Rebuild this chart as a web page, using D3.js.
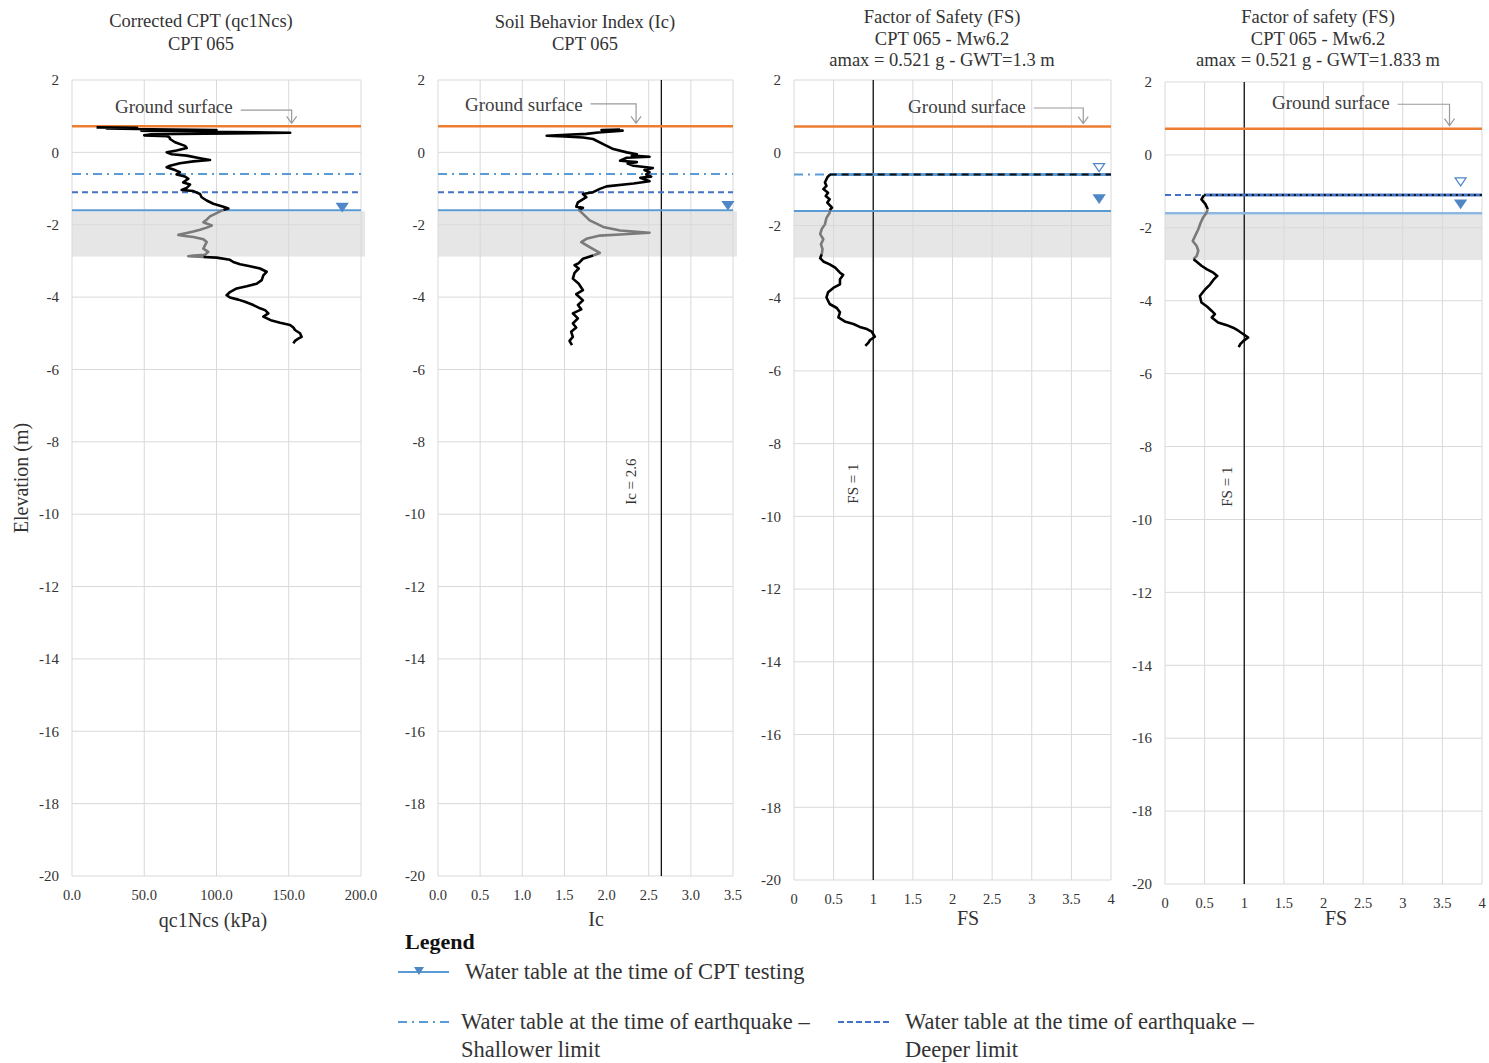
<!DOCTYPE html>
<html>
<head>
<meta charset="utf-8">
<script src="https://cdn.jsdelivr.net/npm/d3@7"></script>
<style>
  body { margin: 0; background: #fff; }
  text { font-family: "Liberation Serif", "Times New Roman", serif; fill: #333; }
</style>
</head>
<body>
<div id="chart"></div>
<script>
// elevation ticks (m) and x ticks
var elevTicks = [2, 0, -2, -4, -6, -8, -10, -12, -14, -16, -18, -20];
var qcTicks = [0, 50, 100, 150, 200];
var icTicks = [0, 0.5, 1, 1.5, 2, 2.5, 3, 3.5];
var fsTicks = [0, 0.5, 1, 1.5, 2, 2.5, 3, 3.5, 4];

// reference levels (m)
var groundSurface = 0.72;
var wtCpt = -1.6;
var wtShallow = -0.6;
var wtDeep = -1.1;
var shadeTop = -1.63, shadeBottom = -2.88;
var icLimit = 2.65;
var fsLimit = 1;

// [elevation, value]
var qcProfile = [
  [0.69, 17], [0.68, 45], [0.66, 24], [0.64, 55], [0.62, 100], [0.60, 48], [0.57, 90], [0.54, 151],
  [0.52, 110], [0.50, 55], [0.47, 50], [0.45, 66], [0.40, 67.8], [0.37, 67.8], [0.28, 71.3], [0.18, 78.2],
  [0.12, 79.4], [0.05, 72.4], [0.0, 65.5], [-0.05, 69], [-0.09, 79.4], [-0.16, 88.6], [-0.21, 95.5],
  [-0.25, 84], [-0.30, 74.7], [-0.37, 67.8], [-0.41, 65.5], [-0.49, 71.3], [-0.55, 74.7], [-0.61, 72.4],
  [-0.67, 78.2], [-0.73, 80.5], [-0.83, 77], [-0.89, 81.7], [-0.98, 79.4], [-1.04, 75.9], [-1.07, 84],
  [-1.15, 88.6], [-1.24, 89.7], [-1.33, 93.2], [-1.42, 97.8], [-1.50, 104.7], [-1.55, 108.2], [-1.59, 104.7],
  [-1.68, 100.1], [-1.77, 95.5], [-1.86, 93.2], [-1.93, 90.9], [-2.02, 96.7], [-2.08, 93.2], [-2.14, 88.6],
  [-2.19, 84], [-2.23, 79.4], [-2.28, 73.6], [-2.31, 78.2], [-2.34, 84], [-2.40, 90.9], [-2.48, 93.2],
  [-2.57, 92], [-2.66, 90.9], [-2.75, 94.3], [-2.83, 92], [-2.85, 84], [-2.87, 80.5], [-2.89, 90.9],
  [-2.91, 100.1], [-2.97, 109.3], [-3.03, 111.6], [-3.09, 116.3], [-3.15, 123.2], [-3.21, 130.1],
  [-3.30, 134.7], [-3.40, 132.4], [-3.53, 131.3], [-3.63, 127.8], [-3.70, 120.9], [-3.76, 114],
  [-3.86, 109.3], [-3.95, 107], [-4.01, 109.3], [-4.07, 115.1], [-4.13, 119.7], [-4.22, 125.5],
  [-4.31, 130.1], [-4.36, 133.6], [-4.45, 135.9], [-4.54, 132.4], [-4.65, 138.2], [-4.71, 144],
  [-4.77, 150.9], [-4.84, 153.2], [-4.91, 154.3], [-5.00, 157.8], [-5.10, 158.9], [-5.15, 156.6],
  [-5.21, 154.3], [-5.28, 153.2]
];

var icProfile = [
  [0.63, 2.16], [0.62, 1.94], [0.60, 2.19], [0.55, 1.90], [0.51, 1.76], [0.46, 1.29], [0.44, 1.50],
  [0.41, 1.72], [0.37, 1.84], [0.23, 1.96], [0.09, 2.08], [0.0, 2.24], [-0.05, 2.36], [-0.09, 2.30],
  [-0.12, 2.51], [-0.15, 2.24], [-0.23, 2.16], [-0.27, 2.36], [-0.31, 2.25], [-0.37, 2.32], [-0.43, 2.55],
  [-0.49, 2.45], [-0.55, 2.51], [-0.61, 2.47], [-0.67, 2.53], [-0.70, 2.40], [-0.80, 2.51], [-0.86, 2.32],
  [-0.94, 2.00], [-1.01, 1.92], [-1.10, 1.84], [-1.15, 1.72], [-1.24, 1.76], [-1.38, 1.66], [-1.50, 1.64],
  [-1.53, 1.72], [-1.59, 1.67], [-1.70, 1.72], [-1.88, 1.80], [-2.06, 1.96], [-2.16, 2.16], [-2.22, 2.51],
  [-2.27, 2.16], [-2.30, 1.92], [-2.39, 1.76], [-2.48, 1.70], [-2.62, 1.80], [-2.78, 1.92], [-2.85, 1.84],
  [-2.94, 1.72], [-3.06, 1.67], [-3.12, 1.62], [-3.21, 1.67], [-3.33, 1.62], [-3.49, 1.60], [-3.63, 1.67],
  [-3.81, 1.72], [-3.92, 1.64], [-4.09, 1.72], [-4.22, 1.66], [-4.34, 1.70], [-4.45, 1.60], [-4.59, 1.66],
  [-4.73, 1.60], [-4.84, 1.64], [-4.96, 1.58], [-5.10, 1.60], [-5.21, 1.56], [-5.33, 1.59]
];

var fsProfileA = [
  [-0.59, 0.45], [-0.61, 0.45], [-0.68, 0.42], [-0.82, 0.39], [-0.91, 0.41], [-1.00, 0.37], [-1.10, 0.43],
  [-1.19, 0.40], [-1.28, 0.45], [-1.37, 0.42], [-1.51, 0.48], [-1.58, 0.45], [-1.65, 0.45], [-1.79, 0.41],
  [-1.97, 0.39], [-2.10, 0.35], [-2.24, 0.33], [-2.38, 0.37], [-2.52, 0.34], [-2.65, 0.36], [-2.79, 0.35],
  [-2.90, 0.33], [-2.99, 0.37], [-3.07, 0.45], [-3.16, 0.52], [-3.30, 0.58], [-3.36, 0.62], [-3.48, 0.58],
  [-3.62, 0.58], [-3.71, 0.50], [-3.84, 0.43], [-3.98, 0.41], [-4.16, 0.45], [-4.27, 0.54], [-4.39, 0.58],
  [-4.53, 0.56], [-4.64, 0.64], [-4.71, 0.75], [-4.79, 0.83], [-4.85, 0.92], [-4.92, 0.98], [-5.06, 1.02],
  [-5.15, 0.96], [-5.22, 0.94], [-5.31, 0.90]
];

var fsProfileB = [
  [-1.11, 0.49], [-1.22, 0.46], [-1.35, 0.51], [-1.49, 0.54], [-1.60, 0.52], [-1.72, 0.48], [-1.86, 0.45],
  [-2.04, 0.42], [-2.22, 0.38], [-2.36, 0.35], [-2.50, 0.40], [-2.63, 0.42], [-2.77, 0.40], [-2.86, 0.36],
  [-2.93, 0.40], [-3.04, 0.46], [-3.14, 0.53], [-3.23, 0.61], [-3.32, 0.66], [-3.43, 0.61], [-3.55, 0.57],
  [-3.68, 0.51], [-3.87, 0.44], [-4.05, 0.46], [-4.16, 0.53], [-4.28, 0.59], [-4.37, 0.63], [-4.46, 0.59],
  [-4.60, 0.67], [-4.67, 0.78], [-4.74, 0.86], [-4.83, 0.93], [-4.92, 0.99], [-5.01, 1.05], [-5.10, 0.99],
  [-5.19, 0.95], [-5.27, 0.93]
];

var panelTitles = [
  ["Corrected CPT (qc1Ncs)", "CPT 065"],
  ["Soil Behavior Index (Ic)", "CPT 065"],
  ["Factor of Safety (FS)", "CPT 065 - Mw6.2", "amax = 0.521  g - GWT=1.3 m"],
  ["Factor of safety (FS)", "CPT 065 - Mw6.2", "amax = 0.521  g - GWT=1.833  m"]
];
var axisTitles = ["qc1Ncs (kPa)", "Ic", "FS", "FS"];

var orange = "#ED7D31", blue = "#5B9BD5", deepBlue = "#4472C4", grid = "#d9d9d9";

var svg = d3.select("#chart").append("svg")
    .attr("width", 1489)
    .attr("height", 1063);

var panels = [
  { l: 72, r: 361, t: 80, b: 876, dom: [0, 200], ticks: qcTicks, fmt: d3.format(".1f"),
    titleX: 201, titleY: [21, 44], axisX: 213, axisY: 920, data: qcProfile,
    levels: [["shallow", wtShallow], ["deep", wtDeep], ["cpt", wtCpt]],
    tri: [[187, -1.52, true]], gs: { tx: 29.8, ty: 1.28, ly: 1.17, ax: 152 } },
  { l: 438, r: 733, t: 80, b: 876, dom: [0, 3.5], ticks: icTicks, fmt: d3.format(".1f"),
    titleX: 585, titleY: [22, 44], axisX: 596, axisY: 919, data: icProfile,
    levels: [["shallow", wtShallow], ["deep", wtDeep], ["cpt", wtCpt]],
    tri: [[3.44, -1.47, true]], gs: { tx: 0.32, ty: 1.34, ly: 1.34, ax: 2.35 },
    vline: icLimit, vlabel: "Ic = 2.6", vlabelX: 2.29 },
  { l: 794, r: 1111, t: 80, b: 880, dom: [0, 4], ticks: fsTicks, fmt: String,
    titleX: 942, titleY: [17, 39, 60], axisX: 968, axisY: 918, data: fsProfileA,
    levels: [["shallow", wtShallow], ["overDash", wtShallow], ["cpt", wtCpt]],
    tri: [[3.85, -0.41, false], [3.85, -1.27, true]], gs: { tx: 1.44, ty: 1.28, ly: 1.23, ax: 3.65 },
    vline: fsLimit, vlabel: "FS = 1", vlabelX: 0.74 },
  { l: 1165, r: 1482, t: 82, b: 884, dom: [0, 4], ticks: fsTicks, fmt: String,
    titleX: 1318, titleY: [17, 39, 60], axisX: 1336, axisY: 918, data: fsProfileB,
    levels: [["deep", wtDeep], ["overDot", wtDeep], ["cptLight", wtCpt]],
    tri: [[3.73, -0.74, false], [3.73, -1.35, true]], gs: { tx: 1.35, ty: 1.45, ly: 1.39, ax: 3.59 },
    vline: fsLimit, vlabel: "FS = 1", vlabelX: 0.78 }
];

// split a profile in 3 parts: above the shaded layer, inside it, below it
function splitProfile(data) {
  var parts = [[], [], []];
  function grp(e) { return e > -1.6 ? 0 : (e >= -2.895 ? 1 : 2); }
  data.forEach(function (d, i) {
    var g = grp(d[0]);
    if (i > 0 && grp(data[i - 1][0]) !== g) parts[g].push(data[i - 1]);
    parts[g].push(d);
  });
  return parts;
}

panels.forEach(function (p, pi) {
  var x = d3.scaleLinear().domain(p.dom).range([p.l, p.r]);
  var y = d3.scaleLinear().domain([-20, 2]).range([p.b, p.t]);
  var g = svg.append("g");

  // shaded layer
  g.append("rect")
    .attr("x", p.l).attr("width", p.r - p.l + (pi < 2 ? 4 : 0))
    .attr("y", y(shadeTop)).attr("height", y(shadeBottom) - y(shadeTop))
    .style("fill", "#e6e6e6");

  // grid
  g.selectAll(".vg").data(p.ticks).enter().append("line")
    .attr("x1", function (d) { return x(d); }).attr("x2", function (d) { return x(d); })
    .attr("y1", p.t).attr("y2", p.b)
    .style("stroke", grid).style("stroke-width", 1);
  g.selectAll(".hg").data(elevTicks).enter().append("line")
    .attr("x1", p.l).attr("x2", p.r)
    .attr("y1", function (d) { return y(d); }).attr("y2", function (d) { return y(d); })
    .style("stroke", grid).style("stroke-width", 1);

  // tick labels
  g.selectAll(".yl").data(elevTicks).enter().append("text")
    .text(function (d) { return d; })
    .attr("x", p.l - 13).attr("y", function (d) { return y(d); })
    .attr("dy", "0.35em").style("text-anchor", "end").style("font-size", "15px");
  g.selectAll(".xl").data(p.ticks).enter().append("text")
    .text(function (d) { return p.fmt(d); })
    .attr("x", function (d) { return x(d); }).attr("y", p.b + 24)
    .style("text-anchor", "middle").style("font-size", "14.5px");

  // axis title
  g.append("text").text(axisTitles[pi])
    .attr("x", p.axisX).attr("y", p.axisY + 7)
    .style("text-anchor", "middle").style("font-size", "20px");

  // panel title
  g.selectAll(".tt").data(panelTitles[pi]).enter().append("text")
    .text(function (d) { return d; })
    .attr("x", p.titleX).attr("y", function (d, i) { return p.titleY[i] + 6; })
    .style("text-anchor", "middle").style("font-size", "18.5px");

  // limit line
  if (p.vline !== undefined) {
    g.append("line")
      .attr("x1", x(p.vline)).attr("x2", x(p.vline)).attr("y1", p.t).attr("y2", p.b)
      .style("stroke", "#111").style("stroke-width", 1.3);
    g.append("text").text(p.vlabel)
      .attr("transform", "translate(" + (x(p.vlabelX) + 5) + "," + y(-9.1) + ") rotate(-90)")
      .style("text-anchor", "middle").style("font-size", "15px");
  }

  // ground surface
  g.append("line")
    .attr("x1", p.l).attr("x2", p.r).attr("y1", y(groundSurface)).attr("y2", y(groundSurface))
    .style("stroke", orange).style("stroke-width", 2.5);

  var startVal = p.data[0][1];
  p.levels.forEach(function (lv) {
    var kind = lv[0], yy = y(lv[1]);
    var ln = g.append("line").attr("y1", yy).attr("y2", yy).attr("x1", p.l).attr("x2", p.r);
    if (kind === "shallow") ln.style("stroke", blue).style("stroke-width", 2).style("stroke-dasharray", "9,5,2,5");
    if (kind === "deep") ln.style("stroke", deepBlue).style("stroke-width", 2).style("stroke-dasharray", "6,4");
    if (kind === "cpt") ln.style("stroke", blue).style("stroke-width", 2);
    if (kind === "cptLight") ln.style("stroke", "#8db6e2").style("stroke-width", 2.5);
    if (kind === "overDash" || kind === "overDot") {
      ln.attr("x1", x(startVal));
      g.append("line").attr("y1", yy).attr("y2", yy).attr("x1", x(startVal)).attr("x2", p.r)
        .style("stroke", kind === "overDash" ? blue : deepBlue).style("stroke-width", 3);
      ln.style("stroke", "#111").style("stroke-width", 2)
        .style("stroke-dasharray", kind === "overDash" ? "7,5" : "2,4")
        .raise();
    }
  });

  // triangles
  g.selectAll(".tri").data(p.tri).enter().append("path")
    .attr("d", function (d) {
      var cx = x(d[0]), cy = y(d[1]);
      return "M" + (cx - 5.5) + "," + (cy - 4) + "L" + (cx + 5.5) + "," + (cy - 4) + "L" + cx + "," + (cy + 4) + "Z";
    })
    .style("fill", function (d) { return d[2] ? "#4f87c6" : "#fff"; })
    .style("stroke", "#4f87c6").style("stroke-width", 1.2);

  // ground surface callout
  var gsText = g.append("text").text("Ground surface")
    .attr("x", x(p.gs.tx)).attr("y", y(p.gs.ty)).attr("dy", "0.35em")
    .style("font-size", "19px").style("fill", "#404040");
  var tw = gsText.node().getComputedTextLength();
  var ax = x(p.gs.ax), ly = y(p.gs.ly), ay = y(groundSurface) - 3;
  g.append("path")
    .attr("d", "M" + (x(p.gs.tx) + tw + 8) + "," + ly + "H" + ax + "V" + ay +
      "M" + (ax - 5) + "," + (ay - 7) + "L" + ax + "," + ay + "L" + (ax + 5) + "," + (ay - 7))
    .style("fill", "none").style("stroke", "#9a9a9a").style("stroke-width", 1.2);

  // profile
  var line = d3.line().x(function (d) { return x(d[1]); }).y(function (d) { return y(d[0]); });
  splitProfile(p.data).forEach(function (seg, si) {
    if (seg.length < 2) return;
    g.append("path").datum(seg).attr("d", line)
      .style("fill", "none")
      .style("stroke", si === 1 ? "#7a7a7a" : "#000")
      .style("stroke-width", 2.6).style("stroke-linejoin", "round");
  });
});

// y axis title
svg.append("text").text("Elevation  (m)")
  .attr("transform", "translate(28,478) rotate(-90)")
  .style("text-anchor", "middle").style("font-size", "20px");

// legend
var legend = svg.append("g");
legend.append("text").text("Legend").attr("x", 405).attr("y", 949)
  .style("font-size", "22px").style("font-weight", "bold").style("fill", "#111");

var legendItems = [
  { x: 398, y: 972, kind: "cpt", dx: 67, text: ["Water table at the time of CPT testing"] },
  { x: 398, y: 1022, kind: "shallow", dx: 63, text: ["Water table at the time of earthquake \u2013", "Shallower limit"] },
  { x: 838, y: 1022, kind: "deep", dx: 67, text: ["Water table at the time of earthquake \u2013", "Deeper limit"] }
];
legendItems.forEach(function (it) {
  var ln = legend.append("line").attr("x1", it.x).attr("x2", it.x + 51).attr("y1", it.y).attr("y2", it.y)
    .style("stroke-width", 2);
  if (it.kind === "cpt") {
    ln.style("stroke", blue);
    legend.append("path")
      .attr("d", "M" + (it.x + 16) + "," + (it.y - 5) + "H" + (it.x + 26) + "L" + (it.x + 21) + "," + (it.y + 3) + "Z")
      .style("fill", "#4f87c6");
  } else if (it.kind === "shallow") {
    ln.style("stroke", blue).style("stroke-dasharray", "9,5,2,5");
  } else {
    ln.style("stroke", deepBlue).style("stroke-dasharray", "6,3");
  }
  legend.selectAll(null).data(it.text).enter().append("text")
    .text(function (d) { return d; })
    .attr("x", it.x + it.dx)
    .attr("y", function (d, i) { return it.y + 7 + i * 28; })
    .style("font-size", "22.5px");
});
</script>
</body>
</html>
